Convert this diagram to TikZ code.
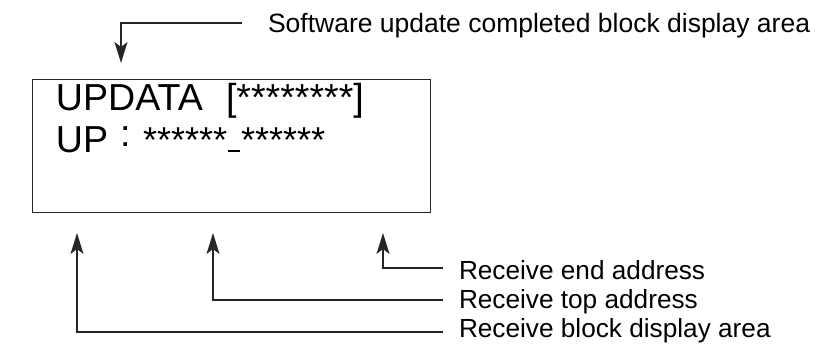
\documentclass[tikz,border=0pt]{standalone}
\usepackage{fontspec}
\setmainfont{Liberation Sans}
\usetikzlibrary{arrows.meta}
\begin{document}
\begin{tikzpicture}[x=1pt,y=-1pt,
  line/.style={line width=1.3pt, draw=black!85},
  arr/.style={line, -{Stealth[length=21pt,width=13pt,inset=5pt]}},
  lbl/.style={inner sep=0pt, outer sep=0pt, anchor=base west, font=\fontsize{26.2}{30}\selectfont},
  toplbl/.style={lbl, font=\fontsize{26.5}{30}\selectfont},
  big/.style={inner sep=0pt, outer sep=0pt, anchor=base west, font=\fontsize{37.6}{40}\selectfont},
  mid/.style={inner sep=0pt, outer sep=0pt, anchor=base west, font=\fontsize{36}{40}\selectfont}]
\useasboundingbox (0,0) rectangle (831,348);
% display box
\node[line, draw, minimum width=398pt, minimum height=133pt, anchor=north west, inner sep=0pt] (box) at (32,79) {};
% display texts
\node[big] (updata) at (56,110) {UPDATA};
\node[big] (blk) at (226,110) {[********]};
\node[big] (up) at (56,152) {UP};
\node[big] (colon) at (120,146) {:};
\node[mid] (addr) at (143,152) {******\hspace{1pt}\rule{12pt}{2.4pt}\hspace{1pt}******};
% labels
\node[toplbl] (sw) at (268,32) {Software update completed block display area};
\node[lbl] (lend) at (459,279) {Receive end address};
\node[lbl] (ltop) at (459,308) {Receive top address};
\node[lbl] (lblk) at (459,337) {Receive block display area};
% connector coordinates
\coordinate (swend) at (242,23);
\coordinate (swtip) at (121,63);
\coordinate (t1) at (77,233);
\coordinate (t2) at (213,233);
\coordinate (t3) at (383,233);
\coordinate (e1) at (443,268);
\coordinate (e2) at (443,300);
\coordinate (e3) at (443,332);
% connectors
\draw[arr] (swend) -| (swtip);
\draw[arr] (e1) -| (t3);
\draw[arr] (e2) -| (t2);
\draw[arr] (e3) -| (t1);
\end{tikzpicture}
\end{document}
